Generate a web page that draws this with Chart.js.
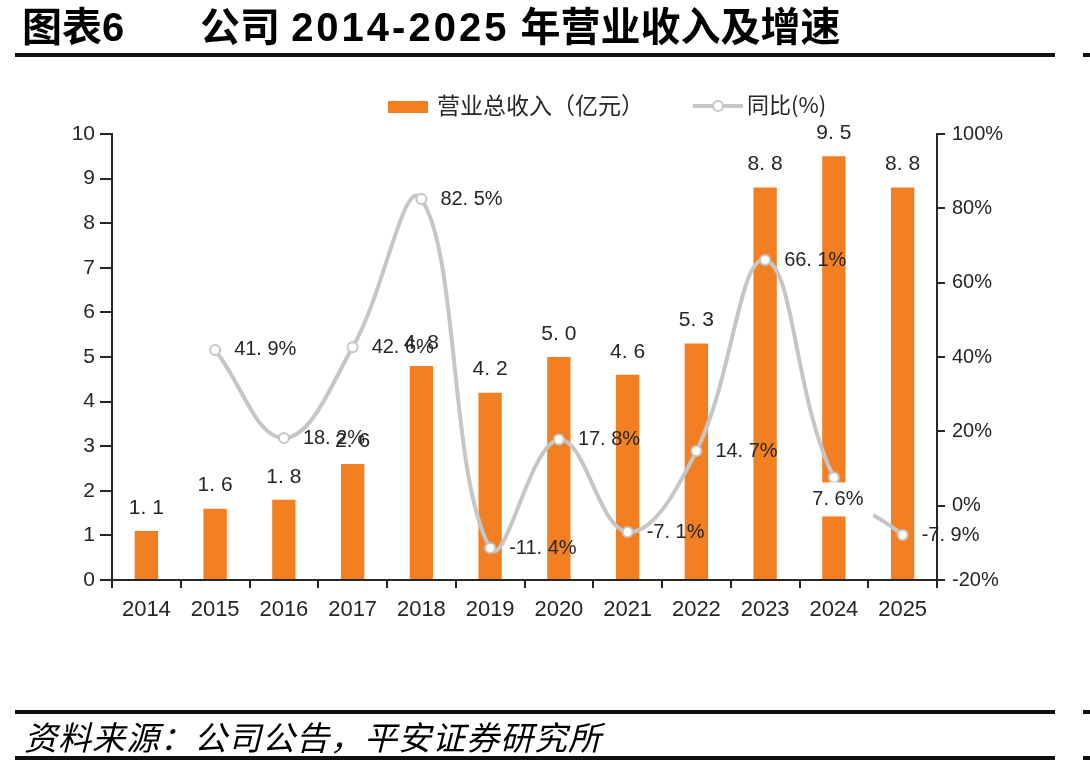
<!DOCTYPE html>
<html><head><meta charset="utf-8">
<script src="https://cdn.jsdelivr.net/npm/chart.js@4.4.1/dist/chart.umd.min.js"></script>
<style>
html,body{margin:0;padding:0;background:#fff;width:1090px;height:768px;overflow:hidden;}
#wrap{position:absolute;left:0;top:0;width:1090px;height:768px;}
.rule{position:absolute;background:#111;height:4px;}
#t1,#t2{position:absolute;top:2px;font-family:"Liberation Sans","Noto Sans CJK SC",sans-serif;font-weight:700;font-size:40px;line-height:50px;color:#000;white-space:nowrap;}
.dg{letter-spacing:3px;}
#src{position:absolute;left:24px;top:717px;font-family:"Noto Sans CJK SC",sans-serif;font-style:italic;font-size:33px;line-height:38px;letter-spacing:1px;color:#000;white-space:nowrap;}
</style></head>
<body>
<div id="wrap"><canvas id="c" width="1090" height="768"></canvas></div>
<div id="t1" style="left:22px">图表<span class="dg">6</span></div>
<div id="t2" style="left:200px">公司 <span class="dg">2014-2025</span> 年营业收入及增速</div>
<div class="rule" style="left:15px;top:53px;width:1040px"></div>
<div class="rule" style="left:1083px;top:53px;width:7px"></div>
<div class="rule" style="left:15px;top:710px;width:1040px"></div>
<div class="rule" style="left:1083px;top:710px;width:7px"></div>
<div class="rule" style="left:15px;top:756px;width:1040px"></div>
<div class="rule" style="left:1083px;top:756px;width:7px"></div>
<div id="src">资料来源：公司公告，平安证券研究所</div>
<script>
// ---- data ----
const years = ['2014','2015','2016','2017','2018','2019','2020','2021','2022','2023','2024','2025'];
const revenue = [1.1, 1.6, 1.8, 2.6, 4.8, 4.2, 5.0, 4.6, 5.3, 8.8, 9.5, 8.8];
const growth = [null, 41.9, 18.2, 42.6, 82.5, -11.4, 17.8, -7.1, 14.7, 66.1, 7.6, -7.9];
const growthLabelSide = ['right','right','right','right','right','right','right','right','right','right','below','right'];
const revenueName = '营业总收入（亿元）';
const growthName = '同比(%)';
const leftAxis = {min: 0, max: 10, step: 1};
const rightAxis = {min: -20, max: 100, step: 20};

const ORANGE = '#f28023';
const GREY = '#c6c6c6';
const INK = '#262626';

function fmt(v){ return v.toFixed(1).replace('.', '. '); }

const labelPlugin = {
  id: 'valueLabels',
  afterDatasetsDraw(chart){
    const ctx = chart.ctx;
    const barMeta = chart.getDatasetMeta(1);
    const lineMeta = chart.getDatasetMeta(0);
    ctx.save();
    ctx.font = '21px "Liberation Sans", sans-serif';
    ctx.fillStyle = INK;
    ctx.textBaseline = 'middle';
    ctx.textAlign = 'center';
    barMeta.data.forEach((el, i) => {
      ctx.fillText(fmt(revenue[i]), el.x, el.y - 23);
    });
    ctx.font = '20px "Liberation Sans", sans-serif';
    lineMeta.data.forEach((el, i) => {
      const v = growth[i];
      if (v === null) return;
      const txt = fmt(v) + '%';
      if (growthLabelSide[i] === 'below') {
        const w = ctx.measureText(txt).width;
        ctx.fillStyle = '#fff';
        ctx.fillRect(el.x + 4 - w/2 - 10, el.y + 5, w + 20, 34);
        ctx.fillStyle = INK;
        ctx.textAlign = 'center';
        ctx.fillText(txt, el.x + 4, el.y + 22);
      } else {
        ctx.textAlign = 'left';
        ctx.fillText(txt, el.x + 19, el.y);
      }
    });
    ctx.restore();
  },
  afterDraw(chart){
    const ctx = chart.ctx;
    ctx.save();
    ctx.fillStyle = ORANGE;
    ctx.fillRect(388, 101, 40, 12);
    ctx.font = '23px "Noto Sans CJK SC", sans-serif';
    ctx.fillStyle = INK;
    ctx.textBaseline = 'middle';
    ctx.textAlign = 'left';
    ctx.fillText(revenueName, 437, 105);
    ctx.strokeStyle = GREY;
    ctx.lineWidth = 4;
    ctx.beginPath(); ctx.moveTo(693, 106); ctx.lineTo(743, 106); ctx.stroke();
    ctx.beginPath(); ctx.arc(718, 106, 5, 0, Math.PI*2);
    ctx.fillStyle = '#fff'; ctx.fill();
    ctx.lineWidth = 2; ctx.stroke();
    ctx.fillStyle = INK;
    ctx.font = '22px "Noto Sans CJK SC", sans-serif';
    ctx.fillText(growthName, 747, 105);
    ctx.restore();
  }
};

new Chart(document.getElementById('c'), {
  data: {
    labels: years,
    datasets: [
      {
        type: 'line', label: growthName, data: growth, yAxisID: 'y1', order: 0,
        borderColor: GREY, borderWidth: 4, tension: 0.4,
        pointRadius: 5, pointBackgroundColor: '#fff', pointBorderColor: GREY, pointBorderWidth: 2,
        fill: false
      },
      {
        type: 'bar', label: revenueName, data: revenue, yAxisID: 'y', order: 1,
        backgroundColor: ORANGE, barPercentage: 0.34, categoryPercentage: 1.0
      }
    ]
  },
  options: {
    responsive: false, animation: false,
    layout: {padding: {left: 62, right: 33, top: 134, bottom: 148}},
    plugins: {legend: {display: false}, tooltip: {enabled: false}},
    scales: {
      x: {
        offset: true,
        grid: {offset: true, drawOnChartArea: false, drawTicks: true, tickLength: 8, color: INK, lineWidth: 2},
        border: {color: INK, width: 2},
        ticks: {font: {family: '"Liberation Sans"', size: 22}, color: INK, padding: 9, maxRotation: 0},
        afterFit(s){ s.height = 40; }
      },
      y: {
        position: 'left', min: leftAxis.min, max: leftAxis.max,
        grid: {drawOnChartArea: false, drawTicks: true, tickLength: 12, color: INK, lineWidth: 2},
        border: {color: INK, width: 2},
        ticks: {stepSize: leftAxis.step, font: {family: '"Liberation Sans"', size: 21}, color: INK, padding: 5},
        afterFit(s){ s.width = 50; }
      },
      y1: {
        position: 'right', min: rightAxis.min, max: rightAxis.max,
        grid: {drawOnChartArea: false, drawTicks: true, tickLength: 8, color: INK, lineWidth: 2},
        border: {color: INK, width: 2},
        ticks: {stepSize: rightAxis.step, font: {family: '"Liberation Sans"', size: 20}, color: INK, padding: 7,
                callback: v => v + '%'},
        afterFit(s){ s.width = 120; }
      }
    }
  },
  plugins: [labelPlugin]
});
</script>
</body></html>
